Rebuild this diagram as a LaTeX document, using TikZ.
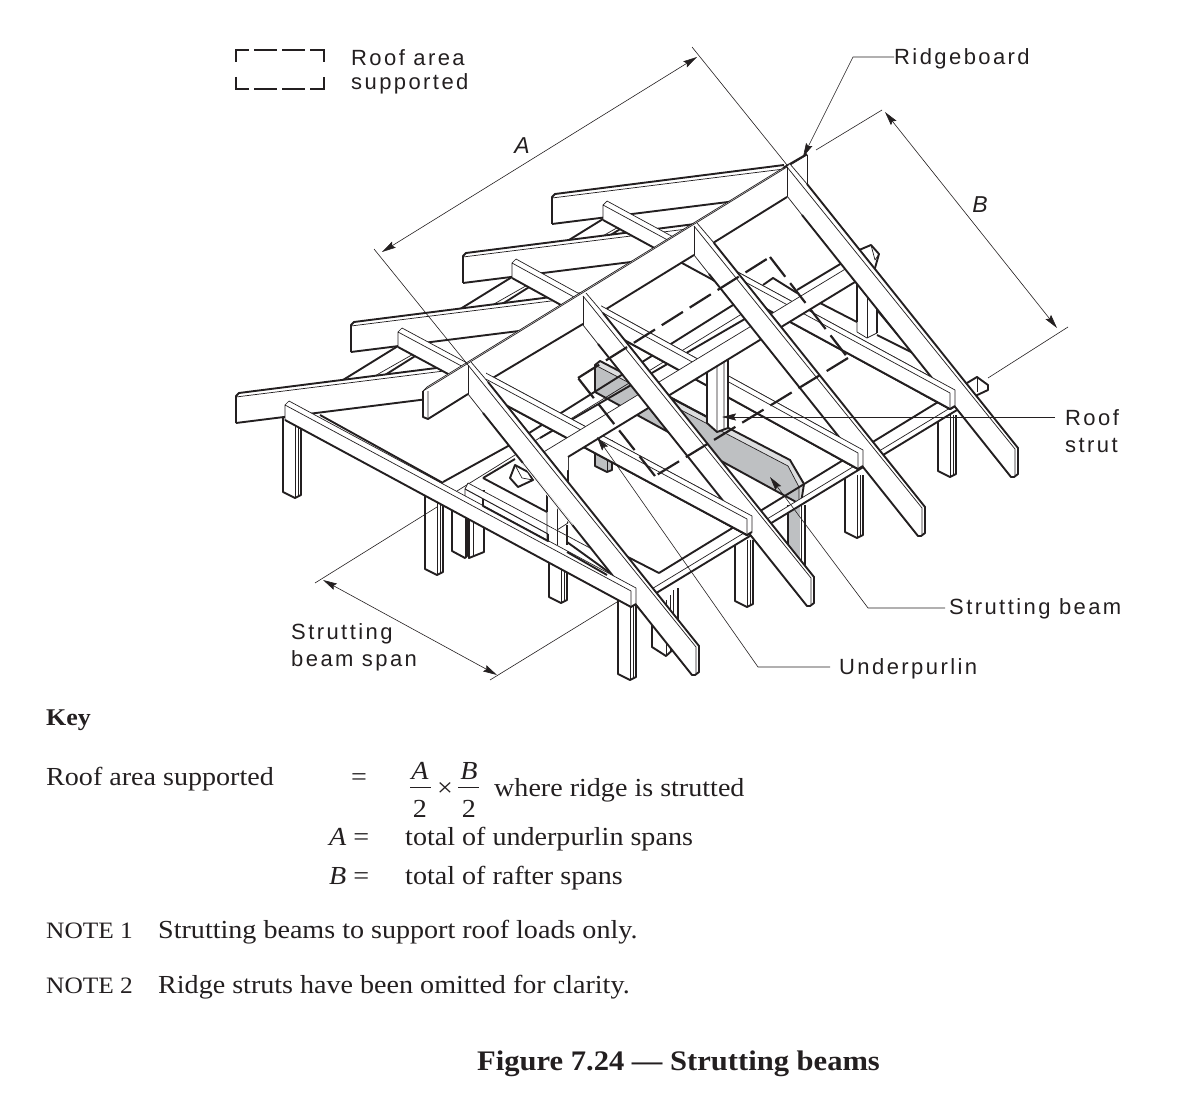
\documentclass[tikz,border=0pt]{standalone}
\usepackage{fontspec}
\setmainfont[FakeStretch=1.08]{Liberation Serif}
\newfontfamily\lab[LetterSpace=11]{Liberation Sans}
\newfontfamily\labi{Liberation Sans}
\usetikzlibrary{arrows.meta}
\definecolor{ink}{HTML}{231F20}
\definecolor{grayb}{HTML}{BEC0C2}
\definecolor{grayl}{HTML}{DDDEDF}
\tikzset{
 thk/.style={draw=ink,line width=1.9pt,line join=round},
 thn/.style={draw=ink,line width=0.7pt,line join=round},
 dim/.style={draw=ink,line width=0.6pt},
 arr/.style={-{Stealth[length=14pt,width=7pt,inset=2pt]}},
 dbl/.style={{Stealth[length=14pt,width=7pt,inset=2pt]}-{Stealth[length=14pt,width=7pt,inset=2pt]}},
 dashq/.style={draw=ink,line width=2.2pt,dash pattern=on 25pt off 8pt},
 boxl/.style={draw=ink,line width=2.5pt},
 labl/.style={anchor=west,inner sep=0pt,yshift=-2pt,font=\lab\fontsize{22}{24}\selectfont,text=ink},
 labit/.style={anchor=center,inner sep=0pt,font=\labi\itshape\fontsize{23}{24}\selectfont,text=ink},
 body/.style={anchor=base west,inner sep=0pt,font=\fontsize{26}{30}\selectfont,text=ink},
 bodyit/.style={body,font=\itshape\fontsize{26}{30}\selectfont}
}
\newcommand\Rafter[2]{%
 \fill[white] (#1,#2)--(#1+3,#2-3)--(#1+231,#2+281)--(#1+231,#2+307)--(#1+227,#2+310)--(#1+224,#2+310)--(#1,#2+29)--cycle;
 \draw[thn] (#1,#2)--(#1,#2+29);
 \draw[thn] (#1,#2)--(#1+228,#2+282)--(#1+228,#2+308);
 \draw[thn] (#1+3,#2-3)--(#1+20,#2+17);
 \draw[thk] (#1+20,#2+17)--(#1+231,#2+281)--(#1+231,#2+307)--(#1+227,#2+310)--(#1+224,#2+310)--(#1+15,#2+48);
 \draw[thn] (#1,#2+29)--(#1+15,#2+48);
}
\newcommand\Lft[2]{%
 \fill[white] (#1,#2+1)--(#1+3,#2-2)--(#1+232,#2-29)--(#1+232,#2)--(#1,#2+29)--cycle;
 \draw[thk] (#1,#2+29)--(#1,#2+2)--(#1+3,#2-1)--(#1+232,#2-30);
 \draw[thn] (#1,#2+3)--(#1+232,#2-26);
 \draw[thk] (#1,#2+29)--(#1+232,#2);
}
\newcommand\Bay[2]{%
 \draw[thk] (343+#1,380+#2)--(398+#1,346+#2);
 \draw[thn] (373+#1,377+#2)--(417+#1,352+#2);
 \draw[thk] (385+#1,375+#2)--(420+#1,353+#2)--(442+#1,368+#2);
}
% x y ex ey
\newcommand\Bm[4]{%
 \fill[white] (#1,#2+1)--(#1+4,#2-2)--(#3,#4-2)--(#3,#4+14)--(#3-5,#4+17)--(#1,#2+17)--cycle;
 \draw[thn] (#1+4,#2-2)--(#3,#4-2)--(#3,#4+14);
 \draw[thn] (#1,#2+17)--(#1,#2+2)--(#3-5,#4+1)--(#3-5,#4+17);
 \draw[thn] (#1,#2+2)--(#1+4,#2-2);
 \draw[thk] (#1,#2+17)--(#3-5,#4+17)--(#3,#4+14);
}
% x ytop ybot
\newcommand\Post[3]{%
 \fill[white] (#1,#2)--(#1+18,#2)--(#1+18,#3-3)--(#1+12,#3)--(#1,#3-6)--cycle;
 \draw[thk] (#1,#2)--(#1,#3-6)--(#1+12,#3)--(#1+18,#3-3)--(#1+18,#2);
 \draw[thn] (#1+12,#2)--(#1+12,#3);
 \draw[thn] (#1+15.5,#2)--(#1+15.5,#3-2);
}
\begin{document}
\begin{tikzpicture}[x=1pt,y=-1pt]
\useasboundingbox (0,0) rectangle (1200,1102);
% ---- left rafters and bays
\Lft{552}{195}
\Bay{205}{-127}
\Lft{463}{254}
\Bay{114}{-69}
\Lft{351}{323}
\Bay{0}{0}
\Lft{236}{394}
% ---- posts
\Post{283}{418}{498}
\Post{425}{495}{575}
\Post{549}{540}{603}
\Post{735}{540}{607}
\Post{845}{475}{538}
\Post{938}{415}{477}
% double posts
\fill[white] (452,500) rectangle (484,555);
\draw[thk] (452,510)--(452,551)--(465,558)--(467,556)--(467,490);
\draw[thk] (469,490)--(469,558)--(484,552)--(484,490);
\draw[thn] (465,510)--(465,558) (473,490)--(473,557);
\fill[white] (652,590) rectangle (678,652);
\draw[thk] (652,595)--(652,647)--(666,656)--(678,645)--(678,588);
\draw[thn] (666,600)--(666,656) (670,595)--(670,652) (673,590)--(673,648);
% gray post
\fill[grayb] (788,505) rectangle (800,570);
\draw[thk] (788,505)--(788,570) (805,505)--(805,570);
\draw[thn] (801,505)--(801,570);
% lower gray post
\fill[grayb] (595,440)--(612,440)--(612,470)--(607,472)--(595,466)--cycle;
\draw[thk] (595,440)--(595,466)--(607,472)--(612,470)--(612,440);
\draw[thn] (607,440)--(607,472);
% stubs right
\fill[white] (967,383)--(977,377)--(988,385)--(988,390)--(973,397)--cycle;
\draw[thk] (967,383)--(977,377)--(988,385)--(988,390)--(973,397);
\draw[thn] (977,377)--(977,392);
% ---- gray strutting beam
\fill[grayl] (595,365)--(600,361)--(790,460)--(804,484)--(801,503)--(799,503)--(788,466)--cycle;
\fill[grayb] (595,365)--(788,466)--(799,487)--(799,503)--(595,392)--cycle;
\draw[thk] (595,392)--(595,365)--(600,361)--(790,460)--(804,484)--(801,503)--(798,503)--cycle;
\draw[thn] (595,365)--(788,466)--(799,487)--(799,503);
% ---- right plate
\fill[white] (650,590)--(955,405)--(957,410)--(653,595)--cycle;
\draw[thn] (650,590)--(955,405);
\draw[thk] (653,595)--(957,410);
\draw[thk] (659,573)--(938,402);
% ---- ceiling lines, back members
\draw[thk] (443,482)--(510,445)--(733,305);
\draw[thk] (797,290)--(842,263);
\draw[thk] (763,285)--(773,278)--(797,293);
\draw[thn] (457,491)--(515,455);
\draw[thn] (533,442)--(745,312);
\draw[thk] (540,438)--(750,316);
\draw[thk] (820,303)--(857,322);
\draw[thk] (877,335)--(913,353);
\draw[thk] (877,310)--(913,353);
\draw[thk] (697,378)--(670,393);
\draw[thk] (670,397)--(707,417);
\draw[thk] (620,553)--(659,573);
% left strutting beam and triangle
\draw[thk] (483,478)--(547,512);
\draw[thk] (483,478)--(515,459);
\fill[white] (465,489)--(468,483)--(590,548)--(625,590)--(465,510)--cycle;
\draw[thn] (468,483)--(590,548);
\draw[thn] (468,483)--(465,489)--(465,505);
\draw[thn,line width=1pt] (465,489)--(548,534);
\draw[thk] (567,542)--(610,573);
\fill[white] (510,478)--(515,465)--(528,472)--(533,480)--(518,487)--cycle;
\draw[thk] (510,478)--(515,465)--(528,472)--(533,480)--(518,487)--cycle;
\draw[thn] (515,465)--(522,478)--(533,480);
% ---- tie beams (full)
\Bm{603}{203}{955}{392}
\Bm{512}{261}{863}{452}
\Bm{398}{330}{752}{518}
% ---- ridge
\fill[white] (423,391)--(427,387)--(807,154)--(807,185)--(787,197)--(428,419)--(423,417)--cycle;
\draw[thn] (427,387)--(783,168);
\draw[thk] (783,168)--(807,154);
\draw[thn] (423,391)--(787,167)--(807,155);
\draw[thn] (423,391)--(427,387) (428,391)--(428,419);
\draw[thk] (423,391)--(423,417)--(428,419)--(468,394);
\draw[thk] (491,379)--(583,324);
\draw[thk] (603,311)--(694,255);
\draw[thk] (713,243)--(787,197);
\draw[thn] (807,155)--(807,185);
% ---- tie beams right of the ridge
\begin{scope}\clip (712,0) rectangle (1200,1102);\Bm{603}{203}{955}{392}\end{scope}
\begin{scope}\clip (601,0) rectangle (1200,1102);\Bm{512}{261}{863}{452}\end{scope}
\begin{scope}\clip (486,0) rectangle (1200,1102);\Bm{398}{330}{752}{518}\end{scope}
% ---- struts
\fill[white] (707,370)--(717,355)--(728,348)--(728,428)--(717,432)--(707,423)--cycle;
\draw[thk] (707,372)--(707,423)--(717,432)--(728,428)--(728,348);
\draw[thn] (717,355)--(717,432) (707,372)--(717,355) (724,350)--(724,429);
\fill[white] (857,280)--(877,270)--(877,333)--(867,338)--(857,332)--cycle;
\draw[thk] (857,282)--(857,322);
\draw[thn] (857,322)--(857,332)--(867,338)--(877,333);
\draw[thk] (877,308)--(877,333);
\draw[thn] (867,285)--(867,338);
\fill[white] (547,462)--(568,450)--(568,523)--(557,530)--(547,524)--cycle;
\draw[thn] (547,495)--(547,541) (557,530)--(568,523);
\draw[thk] (547,493)--(547,512);
\draw[thk] (568,448)--(568,523);
\draw[thn] (557,455)--(557,545);
\draw[thk] (567,525)--(567,545);
% ---- underpurlin
\fill[white] (537,456)--(852,265)--(878,253)--(875,268)--(855,282)--(568,457)--(568,470)--(547,470)--cycle;
\draw[thn] (537,456)--(852,265);
\draw[thk] (568,457)--(855,282);
\fill[white] (855,252)--(871,245)--(879,254)--(875,268)--(860,280)--cycle;
\draw[thk] (852,253)--(871,245)--(879,254)--(875,268)--(860,279);
\draw[thn] (871,245)--(875,260)--(879,254);
% ---- right rafters
\Rafter{787}{167}
\begin{scope}\clip (920,0) rectangle (1200,1102);\Bm{603}{203}{955}{392}\end{scope}
\Rafter{694}{226}
\begin{scope}\clip (830,0) rectangle (1200,1102);\Bm{512}{261}{863}{452}\end{scope}
\Rafter{583}{296}
\begin{scope}\clip (720,0) rectangle (1200,1102);\Bm{398}{330}{752}{518}\end{scope}
\Post{618}{600}{680}
\Rafter{468}{365}
\draw[white,line width=2.6pt] (523,463)--(572,525);
\draw[thn] (523,463)--(572,525);
% ---- front plate
\Bm{285}{403}{636}{590}
\draw[thk] (320,415)--(443,483);
\draw[thk] (483,499)--(483,506)--(548,541)--(548,534);
\draw[thk] (567,552)--(607,575);
% ---- roof area
\coordinate (q1) at (770,257);
\coordinate (q2) at (848,358);
\coordinate (q3) at (655,476);
\coordinate (q4) at (578,378);
\draw[dashq] (q1)--(q2);
\draw[dashq] (q2)--(q3);
\draw[dashq] (q3)--(q4);
\draw[dashq] (q4)--(q1);
% ---- legend box
\draw[boxl] (236,62)--(236,50)--(249,50) (254,50)--(277,50) (282,50)--(305,50) (310,50)--(324,50)--(324,62);
\draw[boxl] (236,77)--(236,89)--(249,89) (254,89)--(277,89) (282,89)--(305,89) (310,89)--(324,89)--(324,77);
\node[labl] (tRoofA) at (351,56) {Roof area};
\node[labl] (tRoofB) at (351,82) {supported};
% ---- dimensions
\coordinate (aE1) at (374,249); \coordinate (aE2) at (692,47);
\coordinate (aP1) at (468,365); \coordinate (aP2) at (787,165);
\draw[dim] (aE1)--(aP1);
\draw[dim] (aE2)--(aP2);
\coordinate (aA) at (382,252); \coordinate (aB) at (697,57);
\draw[dim,dbl] (aA)--(aB);
\node[labit] (tA) at (522,146) {A};
\coordinate (bE1) at (816,150); \coordinate (bE2) at (882,110);
\coordinate (bE3) at (1068,327); \coordinate (bE4) at (988,378);
\draw[dim] (bE1)--(bE2);
\draw[dim] (bE3)--(bE4);
\coordinate (bA) at (885,112); \coordinate (bB) at (1057,328);
\draw[dim,dbl] (bA)--(bB);
\node[labit] (tB) at (980,205) {B};
\coordinate (sE1) at (315,583); \coordinate (sE2) at (437,507);
\coordinate (sE3) at (490,680); \coordinate (sE4) at (617,602);
\draw[dim] (sE1)--(sE2);
\draw[dim] (sE3)--(sE4);
\coordinate (sA) at (323,580); \coordinate (sB) at (497,675);
\draw[dim,dbl] (sA)--(sB);
\node[labl] (tSpanA) at (291,632) {Strutting};
\node[labl] (tSpanB) at (291,659) {beam span};
% ---- labels and leaders
\node[labl] (tRidge) at (894,57) {Ridgeboard};
\node[labl] (tStrutA) at (1065,416) {Roof};
\node[labl] (tStrutB) at (1065,443) {strut};
\node[labl] (tBeam) at (949,607) {Strutting beam};
\node[labl] (tPur) at (839,667) {Underpurlin};
\coordinate (lRidge) at (803,157);
\coordinate (lStrut) at (722,417);
\coordinate (lBeam) at (770,477);
\coordinate (lPur) at (597,437);
\draw[dim,arr] (tRidge.west|-0,57)--(853,57)--(lRidge);
\draw[dim,arr] (1055,417)--(lStrut);
\draw[dim,arr] (945,608)--(868,608)--(lBeam);
\draw[dim,arr] (830,667)--(758,667)--(lPur);
% ---- key
\node[body,font=\bfseries\fontsize{24}{30}\selectfont] (tKey) at (46,725) {Key};
\node[body] (tArea) at (46,785) {Roof area supported};
\node[body] (tEq) at (351,785) {=};
\node[bodyit,anchor=base] (fA) at (420,779) {A};
\node[body,anchor=base] (f2a) at (420,817) {2};
\draw[thn,line width=1pt] (410,787)--(431,787);
\node[body,anchor=base] (fx) at (445,796) {×};
\node[bodyit,anchor=base] (fB) at (469,779) {B};
\node[body,anchor=base] (f2b) at (469,817) {2};
\draw[thn,line width=1pt] (458,787)--(479,787);
\node[body] (tWhere) at (494,796) {where ridge is strutted};
\node[bodyit] (tAeq) at (329,845) {A \upshape=};
\node[body] (tUnder) at (405,845) {total of underpurlin spans};
\node[bodyit] (tBeq) at (329,884) {B \upshape=};
\node[body] (tRaft) at (405,884) {total of rafter spans};
\node[body,font=\fontsize{23.5}{30}\selectfont] (tN1) at (46,938) {NOTE 1};
\node[body] (tN1b) at (158,938) {Strutting beams to support roof loads only.};
\node[body,font=\fontsize{23.5}{30}\selectfont] (tN2) at (46,993) {NOTE 2};
\node[body] (tN2b) at (158,993) {Ridge struts have been omitted for clarity.};
\node[body,font=\bfseries\fontsize{28.3}{32}\selectfont] (tFig) at (477,1070) {Figure 7.24 — Strutting beams};
\end{tikzpicture}
\end{document}
